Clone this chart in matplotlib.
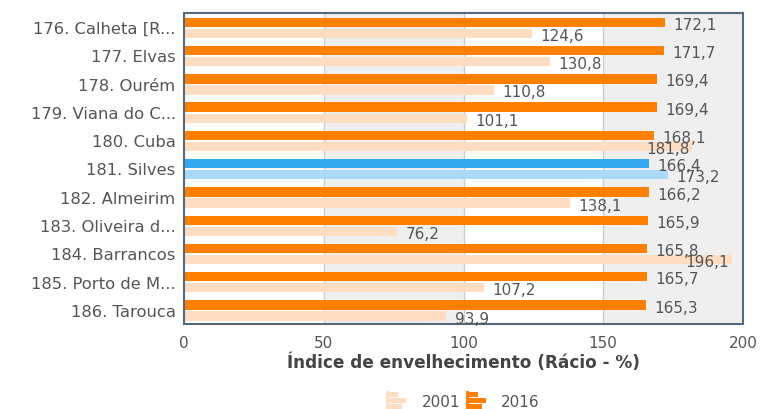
import matplotlib
matplotlib.use("Agg")
import matplotlib.pyplot as plt
from matplotlib.patches import Rectangle
from matplotlib.legend_handler import HandlerBase
import numpy as np

categories = ["176. Calheta [R...", "177. Elvas", "178. Ourém", "179. Viana do C...",
              "180. Cuba", "181. Silves", "182. Almeirim", "183. Oliveira d...",
              "184. Barrancos", "185. Porto de M...", "186. Tarouca"]
values_2016 = [172.1, 171.7, 169.4, 169.4, 168.1, 166.4, 166.2, 165.9, 165.8, 165.7, 165.3]
values_2001 = [124.6, 130.8, 110.8, 101.1, 181.8, 173.2, 138.1, 76.2, 196.1, 107.2, 93.9]
highlight = "181. Silves"
xticks = [0, 50, 100, 150, 200]
xlabel = "Índice de envelhecimento (Rácio - %)"
series_names = ["2001", "2016"]

C2016 = "#FF8000"
C2001 = "#FFDDC2"
H2016 = "#35A9F0"
H2001 = "#AAD9FA"
TXT = "#555555"

fig = plt.figure(figsize=(7.64, 4.10), dpi=100)
ax = fig.add_axes([184/764, 1-325/410, (743-184)/764, (325-14)/410])

ax.set_xlim(0, 200)
n = len(categories)
ax.set_ylim(n - 0.5, -0.5)

# alternating background bands
for i, (a, b) in enumerate(zip(xticks[:-1], xticks[1:])):
    if i % 2 == 1:
        ax.axvspan(a, b, color="#EFEFEF", zorder=0, lw=0)
for t in xticks[1:-1]:
    ax.axvline(t, color="#CCCCCC", lw=1, zorder=0.5)

y = np.arange(n)
h = 0.33
off16, off01 = -0.17, 0.22
c16 = [H2016 if c == highlight else C2016 for c in categories]
c01 = [H2001 if c == highlight else C2001 for c in categories]
ax.barh(y + off16, values_2016, height=h, color=c16, zorder=2)
ax.barh(y + off01, values_2001, height=h, color=c01, zorder=2)

def fmt(v):
    return f"{v:.1f}".replace(".", ",")

def label(v, yy):
    if v > 180:
        ax.annotate(fmt(v), (v, yy), xytext=(-2, -1.5), textcoords="offset points",
                    va="center", ha="right", fontsize=11, color=TXT, zorder=3)
    else:
        ax.annotate(fmt(v), (v, yy), xytext=(6, -1.5), textcoords="offset points",
                    va="center", ha="left", fontsize=11, color=TXT, zorder=3)

for yi, v in zip(y, values_2016):
    label(v, yi + off16)
for yi, v in zip(y, values_2001):
    label(v, yi + off01)

ax.set_yticks(y)
ax.set_yticklabels(categories, fontsize=11.8, color=TXT)
ax.set_xticks(xticks)
ax.set_xticklabels([str(t) for t in xticks], fontsize=11, color=TXT)
ax.tick_params(axis="both", length=0, pad=6)
ax.tick_params(axis="x", pad=8)
ax.set_xlabel(xlabel, fontsize=12.2, fontweight="bold", color="#444444", labelpad=2)

for s in ax.spines.values():
    s.set_color("#56687A")
    s.set_linewidth(1.5)


class BarIconHandler(HandlerBase):
    def create_artists(self, legend, orig_handle, xdescent, ydescent, width, height, fontsize, trans):
        col = orig_handle.get_facecolor()
        arts = []
        x0 = -xdescent
        y0 = -ydescent - height * 0.15
        hh = height * 1.3
        arts.append(Rectangle((x0, y0), width * 0.14, hh, facecolor=col, edgecolor="none", transform=trans))
        lens = [0.55, 1.0, 0.75]
        bh = hh / 3.4
        for k, L in enumerate(lens):
            yy = y0 + hh - (k + 1) * hh / 3 + (hh / 3 - bh) / 2
            arts.append(Rectangle((x0 + width * 0.14, yy), width * 0.86 * L, bh, facecolor=col,
                                  edgecolor="none", transform=trans))
        return arts


handles = [Rectangle((0, 0), 1, 1, facecolor=C2001), Rectangle((0, 0), 1, 1, facecolor=C2016)]
leg = fig.legend(handles, series_names, loc="center", bbox_to_anchor=(463/764, 1-402/410),
                 ncol=2, frameon=False, fontsize=11, handler_map={Rectangle: BarIconHandler()},
                 handlelength=1.3, handleheight=1.0, handletextpad=1.0, columnspacing=0.4)
for t in leg.get_texts():
    t.set_color(TXT)

fig.savefig("out.png", dpi=100)
